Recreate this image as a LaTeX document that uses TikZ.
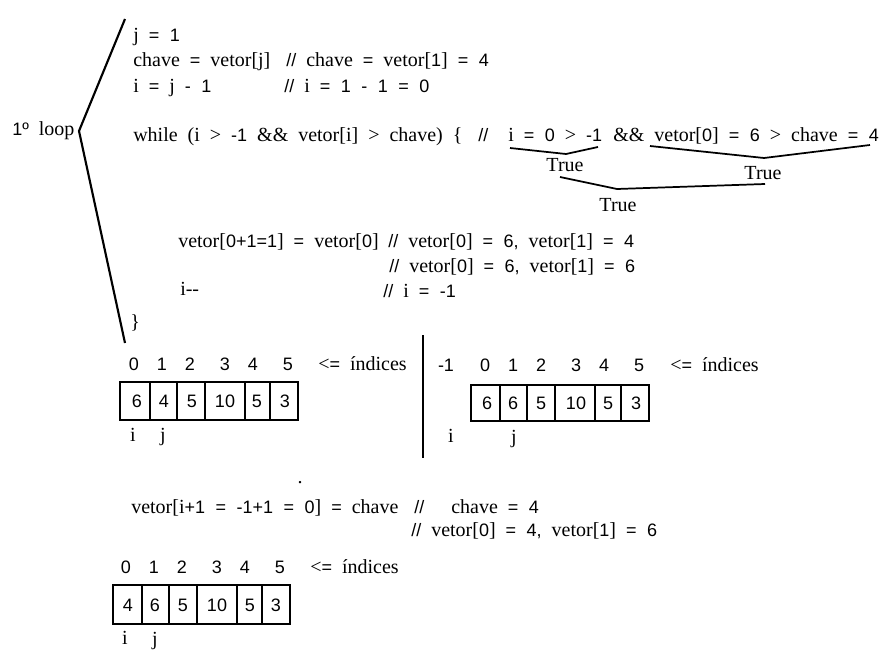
\documentclass[tikz,border=0pt]{standalone}
\usepackage{fontspec}
\setmainfont{Liberation Serif}[WordSpace=2]
\newfontfamily\snfam{Liberation Sans}[WordSpace=2.1]
\newcommand\nn[1]{{\fontsize{13.5}{16}\selectfont\snfam #1}}
\newcommand\tx{\fontsize{15}{18}\selectfont}
\tikzset{
  lbl/.style={inner sep=0pt, anchor=base west, font=\tx},
  ctr/.style={inner sep=0pt, anchor=base, font=\tx},
  val/.style={inner sep=0pt, anchor=center, font=\fontsize{13.5}{16}\selectfont\snfam},
  idx/.style={inner sep=0pt, anchor=base, font=\fontsize{13.5}{16}\selectfont\snfam},
  bracketline/.style={line width=1.6pt},
  underline/.style={line width=1.3pt},
  box/.style={line width=1.5pt}
}
\begin{document}
\begin{tikzpicture}[x=0.75pt,y=-0.75pt]
\useasboundingbox (0,0) rectangle (895,660);
% left bracket
\node[lbl] (loop) at (12,135) {\nn{1º} loop};
\coordinate (bt) at (125,19);
\coordinate (bv) at (79,131);
\coordinate (bb) at (125,343);
\draw[bracketline] (bt) -- (bv) -- (bb);
% header lines
\node[lbl] (l1) at (133,42) {j \nn{= 1}};
\node[lbl] (l2) at (133,67) {chave \nn{=} vetor[j]};
\node[lbl] (c2) at (286,67) {\nn{//} chave \nn{=} vetor[\nn{1}] \nn{= 4}};
\node[lbl] (l3) at (133,92) {i \nn{=} j \nn{- 1}};
\node[lbl] (c3) at (284,92) {\nn{//} i \nn{= 1 - 1 = 0}};
\node[lbl] (w) at (133,141) {while (i > \nn{-1} \&\& vetor[i] > chave) \{};
\node[lbl] (wc) at (478,141) {\nn{//}};
\node[lbl] (e1) at (508,141) {i \nn{= 0} > \nn{-1}};
\node[lbl] (e2) at (613,141) {\&\& vetor[\nn{0}] \nn{= 6} > chave \nn{= 4}};
% under brackets
\coordinate (u1a) at (510,148); \coordinate (u1b) at (566,154); \coordinate (u1c) at (598,147);
\draw[underline] (u1a) -- (u1b) -- (u1c);
\node[ctr] (t1) at (565,171) {True};
\coordinate (u2a) at (650,146); \coordinate (u2b) at (764,158); \coordinate (u2c) at (870,145);
\draw[underline] (u2a) -- (u2b) -- (u2c);
\node[ctr] (t2) at (763,179) {True};
\coordinate (u3a) at (560,177); \coordinate (u3b) at (617,189); \coordinate (u3c) at (765,184);
\draw[underline] (u3a) -- (u3b) -- (u3c);
\node[ctr] (t3) at (618,211) {True};
% body
\node[lbl] (b1) at (178,247) {vetor[\nn{0+1=1}] \nn{=} vetor[\nn{0}]};
\node[lbl] (b1c) at (388,247) {\nn{//} vetor[\nn{0}] \nn{= 6,} vetor[\nn{1}] \nn{= 4}};
\node[lbl] (b2c) at (389,272) {\nn{//} vetor[\nn{0}] \nn{= 6,} vetor[\nn{1}] \nn{= 6}};
\node[lbl] (b3) at (180,295) {i-{}-};
\node[lbl] (b3c) at (383,297) {\nn{//} i \nn{= -1}};
\node[lbl] (close) at (130,328) {\}};
% array 1
\foreach \v/\x [count=\k] in {0/134,1/162,2/190,3/225,4/253,5/288}
  \node[idx] (a1i\k) at (\x,370) {\v};
\node[lbl] (a1t) at (318,370) {<\nn{=} índices};
\draw[box] (120,382) rectangle (298,420);
\foreach \x in {150,177,205,245,270} \draw[box] (\x,382) -- (\x,420);
\foreach \v/\x [count=\k] in {6/137,4/164,5/192,10/225,5/257,3/285}
  \node[val] (a1v\k) at (\x,401) {\v};
\node[ctr] (a1ip) at (133,441) {i};
\node[ctr] (a1jp) at (163,441) {j};
% separator
\coordinate (sept) at (423,335); \coordinate (sepb) at (423,458);
\draw[line width=1.6pt] (sept) -- (sepb);
% array 2
\foreach \v/\x [count=\k] in {-1/446,0/485,1/513,2/541,3/576,4/604,5/639}
  \node[idx] (a2i\k) at (\x,371) {\v};
\node[lbl] (a2t) at (670,371) {<\nn{=} índices};
\draw[box] (471,385) rectangle (649,421);
\foreach \x in {500,527,555,595,621} \draw[box] (\x,385) -- (\x,421);
\foreach \v/\x [count=\k] in {6/487,6/513,5/541,10/576,5/608,3/636}
  \node[val] (a2v\k) at (\x,403) {\v};
\node[ctr] (a2ip) at (451,442) {i};
\node[ctr] (a2jp) at (514,443) {j};
% dot
\node[ctr] (dot) at (300,483) {.};
% final assignment
\node[lbl] (f1) at (131,513) {vetor[i\nn{+1 = -1+1 = 0}] \nn{=} chave};
\node[lbl] (f1s) at (414,513) {\nn{//}};
\node[lbl] (f1c) at (451,513) {chave \nn{= 4}};
\node[lbl] (f2c) at (411,536) {\nn{//} vetor[\nn{0}] \nn{= 4,} vetor[\nn{1}] \nn{= 6}};
% array 3
\foreach \v/\x [count=\k] in {0/126,1/154,2/182,3/217,4/245,5/280}
  \node[idx] (a3i\k) at (\x,573) {\v};
\node[lbl] (a3t) at (310,573) {<\nn{=} índices};
\draw[box] (113,585) rectangle (290,624);
\foreach \x in {142,169,197,237,262} \draw[box] (\x,585) -- (\x,624);
\foreach \v/\x [count=\k] in {4/128,6/155,5/183,10/217,5/250,3/276}
  \node[val] (a3v\k) at (\x,605) {\v};
\node[ctr] (a3ip) at (125,644) {i};
\node[ctr] (a3jp) at (155,645) {j};
\end{tikzpicture}
\end{document}
